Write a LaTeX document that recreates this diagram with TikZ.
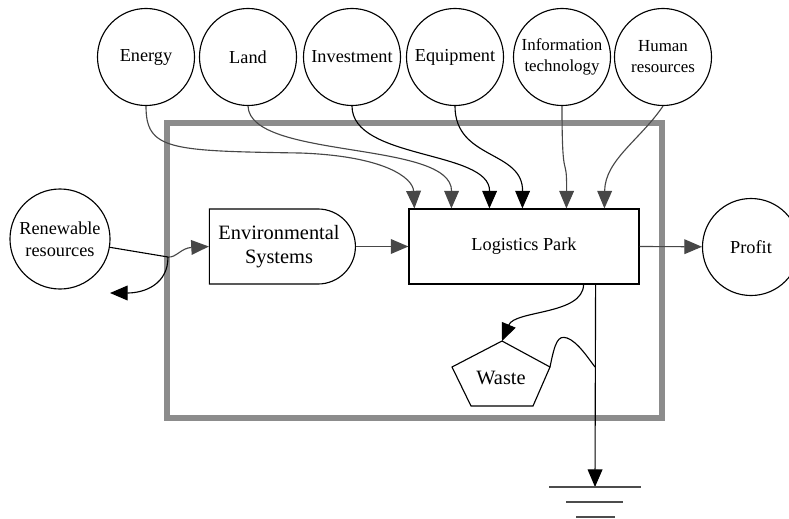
\documentclass[tikz,border=0pt]{standalone}
\usepackage{fontspec}
\setmainfont{Liberation Serif}
\usetikzlibrary{positioning, arrows.meta, shapes.misc, calc}

\begin{document}
\begin{tikzpicture}[x=0.025cm, y=-0.025cm, line width=0.8pt,
  every node/.style={font=\fontsize{13}{16}\selectfont, align=center},
  res/.style={draw, circle, minimum size=2.425cm, inner sep=0pt},
  flow/.style={draw=black!72, -{Triangle[length=12.5pt,width=10.5pt]}},
  flowk/.style={draw=black, -{Triangle[length=12.5pt,width=10.5pt]}}]
  \useasboundingbox (0,0) rectangle (789,519);

  % System boundary
  \draw[black!45, line width=3.6pt] (167,123) rectangle (662,418);

  % Resources
  \node[res] (energy) at (146,57) {Energy};
  \node[res] (land) at (248,57) {Land};
  \node[res] (invest) at (352,57) {Investment};
  \node[res] (equip) at (455,57) {Equipment};
  \node[res, font=\fontsize{12}{15}\selectfont] (infotech) at (562,57) {Information\\technology};
  \node[res, font=\fontsize{12}{15}\selectfont] (human) at (663,57) {Human\\resources};
  \node[res, minimum size=2.5cm] (renew) at (60,239) {Renewable\\resources};
  \node[res] (profit) at (751,247) {Profit};

  % Inside the park
  \node[draw, rounded rectangle, rounded rectangle west arc=none, minimum width=3.65cm,
    minimum height=1.875cm, inner sep=0pt, font=\fontsize{14.5}{17.5}\selectfont] (env) at (279,246.5) {Environmental\\Systems};
  \node[draw, minimum width=5.75cm, minimum height=1.875cm] (park) at (524,246.5) {Logistics Park};
  \node[font=\fontsize{14.5}{17}\selectfont] (waste) at (501,378) {Waste};
  \coordinate (wtop) at (502,341);
  \coordinate (wright) at (550,367);
  \draw (wtop) -- (wright) -- (533,406) -- (471,406) -- (452,367) -- cycle;

  % Inputs
  \draw[flow] (energy.south) .. controls (146,150) and (170,151) .. (300,153)
    .. controls (385,156) and (413,178) .. ($(park.north west)+(6,0)$);
  \draw[flow] (land.south) .. controls (250,160) and (452,140) .. ($(park.north west)+(43,0)$);
  \draw[flowk] (invest.south) .. controls (352,160) and (490,150) .. ($(park.north west)+(81,0)$);
  \draw[flowk] (equip.south) .. controls (455,160) and (523,150) .. ($(park.north west)+(114,0)$);
  \draw[flow] (infotech.south) .. controls (562,190) and (567,150) .. ($(park.north west)+(158,0)$);
  \draw[flow] (human.south) .. controls (640,140) and (605,160) .. ($(park.north west)+(196,0)$);

  % Renewable resources
  \coordinate (split) at (168,257);
  \coordinate (ret) at (110,293);
  \draw (renew) -- (split);
  \draw[flow] (split) .. controls (176,258) and (181,248) .. (env.west);
  \draw[flowk] (split) .. controls (168,284) and (145,293) .. (ret);

  % Outputs
  \draw[flow] (env.east) -- (park.west);
  \draw[flow] (park.east) -- (profit);
  \draw[flowk] ($(park.south east)+(-56,0)$) .. controls (583,315) and (515,310) .. (wtop);
  \coordinate (gnd) at (595,487);
  \draw[flowk] ($(park.south east)+(-44,0)$) -- (gnd);
  \draw (wright) .. controls (555,342) and (558,335) .. (567,338)
    .. controls (578,342) and (588,358) .. (595,367);

  % Ground
  \draw[black!70] ($(gnd)+(-46,0)$) -- ($(gnd)+(46,0)$);
  \draw[black!70] ($(gnd)+(-29,15)$) -- ($(gnd)+(28,15)$);
  \draw[black!70] ($(gnd)+(-19,30)$) -- ($(gnd)+(20,30)$);
\end{tikzpicture}
\end{document}
